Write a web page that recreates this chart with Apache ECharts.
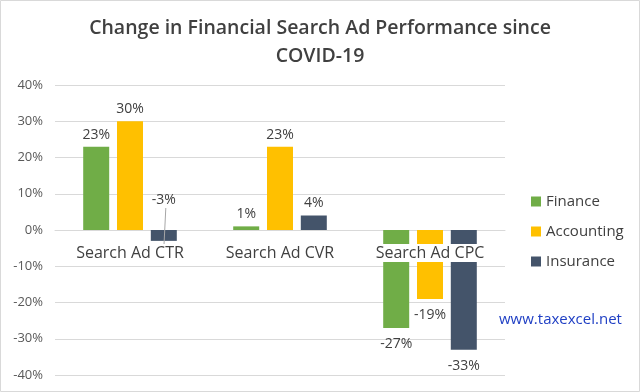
<!DOCTYPE html>
<html><head><meta charset="utf-8">
<script src="https://cdn.jsdelivr.net/npm/echarts@6/dist/echarts.min.js"></script>
<style>html,body{margin:0;padding:0;background:#fff}#c{width:640px;height:392px}</style>
</head><body><div id="c"></div>
<script>
const categories = ['Search Ad CTR', 'Search Ad CVR', 'Search Ad CPC'];
const finance = [23, 1, -27];
const accounting = [30, 23, -19];
const insurance = [-3, 4, -33];
const seriesNames = ['Finance', 'Accounting', 'Insurance'];
const colors = ['#70ad47', '#ffc000', '#44546a'];
const yMin = -40, yMax = 40, yStep = 10;

const chart = echarts.init(document.getElementById('c'), null, {renderer: 'canvas'});
const FONT = 'Open Sans';

function mkData(arr, special) {
  return arr.map((v, i) => {
    const d = {value: v, label: {position: v >= 0 ? 'top' : 'bottom', distance: v >= 0 ? 5 : 9}};
    if (special && special[i]) d.label = special[i];
    return d;
  });
}

const option = {
  animation: false,
  textStyle: {fontFamily: FONT},
  title: {
    text: 'Change in Financial Search Ad Performance since\nCOVID-19',
    left: 'center', top: 9,
    textStyle: {fontFamily: FONT, fontSize: 19.5, fontWeight: 600, color: '#404040', lineHeight: 28}
  },
  legend: {
    orient: 'vertical', left: 526, top: 189, itemWidth: 10, itemHeight: 10, itemGap: 15,
    icon: 'rect', data: seriesNames,
    textStyle: {fontFamily: FONT, fontSize: 15, color: '#404040'}
  },
  grid: {left: 55, right: 135, top: 85, bottom: 17, containLabel: false, outerBoundsMode: 'none'},
  xAxis: {
    type: 'category', data: categories,
    axisLine: {show: true, onZero: true, lineStyle: {color: '#d9d9d9'}},
    axisTick: {show: false},
    axisLabel: {show: false}
  },
  yAxis: {
    type: 'value', min: yMin, max: yMax, interval: yStep,
    axisLine: {show: false}, axisTick: {show: false},
    splitLine: {lineStyle: {color: '#d9d9d9'}},
    axisLabel: {fontFamily: FONT, fontSize: 13, color: '#595959', margin: 12, formatter: '{value}%'}
  },
  series: [
    {name: seriesNames[0], type: 'bar', data: mkData(finance), itemStyle: {color: colors[0]}},
    {name: seriesNames[1], type: 'bar', data: mkData(accounting), itemStyle: {color: colors[1]}},
    {name: seriesNames[2], type: 'bar', data: mkData(insurance, [{position: 'top', distance: 23}]), itemStyle: {color: colors[2]}}
  ].map(s => Object.assign(s, {
    barWidth: 26, barGap: '30%',
    label: {show: true, formatter: '{c}%', fontFamily: FONT, fontSize: 14, color: '#404040'}
  })),
  graphic: []
};
chart.setOption(option);

const g = [
  {type: 'rect', shape: {x: 0.5, y: 0.5, width: 639, height: 391}, style: {fill: 'none', stroke: '#d9d9d9', lineWidth: 1}, z: 100},
  {type: 'text', left: 499, top: 312, style: {text: 'www.taxexcel.net', fontFamily: FONT, fontSize: 15, fill: '#1f3fc4'}}
];
// category labels sitting on the zero line, on white boxes over the bars
categories.forEach((c, i) => {
  const p = chart.convertToPixel({xAxisIndex: 0, yAxisIndex: 0}, [i, 0]);
  g.push({type: 'text', x: p[0], y: p[1] + 23, z: 60,
    style: {text: c, fontFamily: FONT, fontSize: 16, fill: '#404040', align: 'center', verticalAlign: 'middle',
      backgroundColor: '#fff', padding: [1, 3, 1, 3]}});
});
// leader line for the -3% label
const lay = chart.getModel().getSeriesByIndex(2).getData().getItemLayout(0);
if (lay) {
  const cx = lay.x + lay.width / 2;
  const y0 = lay.y, y1 = lay.y + lay.height;
  g.push({type: 'line', z: 50, shape: {x1: cx + 2, y1: y0 - 22, x2: cx, y2: y1 + 8}, style: {stroke: '#a6a6a6', lineWidth: 1}});
}
chart.setOption({graphic: g});
</script></body></html>
